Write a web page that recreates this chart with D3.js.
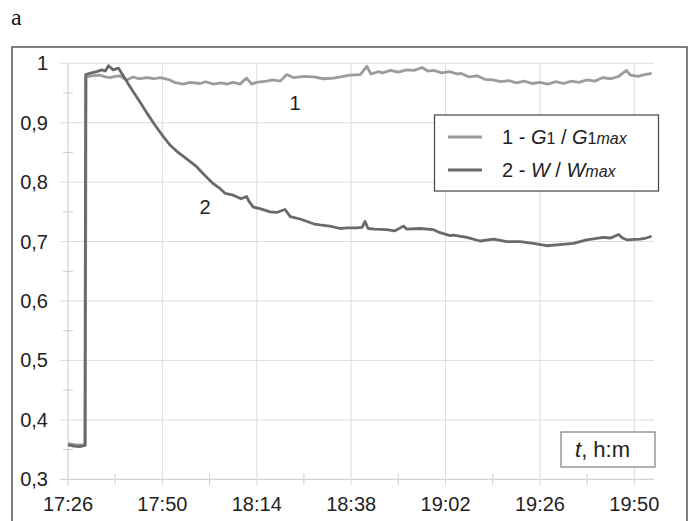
<!DOCTYPE html>
<html>
<head>
<style>
  body{
    margin: 0;
    background: white;
  }
  text{
    font-family: 'Liberation Sans', Arial, sans-serif;
    fill: #222;
  }
</style>
</head>
<body>
<svg id='svgVis'></svg>

<script src="https://cdnjs.cloudflare.com/ajax/libs/d3/7.8.5/d3.min.js"></script>
<script>

// minutes after 17:26
var timeLabels = ["17:26", "17:50", "18:14", "18:38", "19:02", "19:26", "19:50"];
var yTicks = [0.3, 0.4, 0.5, 0.6, 0.7, 0.8, 0.9, 1];

var g1Time = [0, 2, 4.4, 4.6, 6, 8.1, 9.5, 10.7, 12, 13.2, 14.9, 16.6, 18, 20, 22, 23.4, 25.9, 27, 29.3, 31,
  33.6, 35, 37, 39, 40.4, 42, 43.7, 45.4, 46.7, 48, 50.5, 52, 54, 55.6, 57.3, 60, 62.4, 65, 67.5, 70,
  71.7, 74.3, 76, 77, 79, 80, 82, 84, 86, 88, 90, 91.5, 93, 95, 97, 99, 100, 102, 104, 106, 108, 110,
  112, 114, 116, 118, 120, 122, 124, 126, 128, 130, 132, 134, 136, 138, 140, 142, 143, 145, 146, 148.4];
var g1Value = [0.360, 0.358, 0.358, 0.977, 0.979, 0.980, 0.977, 0.976, 0.978, 0.979, 0.972, 0.977, 0.974, 0.976, 0.974, 0.976, 0.972, 0.968, 0.965, 0.968,
  0.966, 0.969, 0.965, 0.967, 0.965, 0.968, 0.965, 0.975, 0.965, 0.968, 0.970, 0.972, 0.970, 0.981, 0.976, 0.978, 0.977, 0.974, 0.975, 0.978,
  0.980, 0.981, 0.995, 0.982, 0.986, 0.984, 0.988, 0.985, 0.989, 0.988, 0.993, 0.987, 0.988, 0.984, 0.986, 0.982, 0.983, 0.977, 0.979, 0.973, 0.972, 0.969,
  0.971, 0.967, 0.970, 0.966, 0.968, 0.965, 0.969, 0.966, 0.970, 0.968, 0.972, 0.970, 0.976, 0.974, 0.978, 0.988, 0.980, 0.978, 0.980, 0.983];

var wTime = [0, 1.5, 3, 4.3, 4.5, 5.5, 7.3, 8.6, 9.5, 10.3, 11.5, 12.8, 13.7, 14.9, 15.8, 17, 18.3, 20, 22, 24.2,
  26, 28, 30, 32.7, 35, 37, 38.7, 40, 42, 44, 45.4, 46, 47.1, 49, 51.4, 53, 55.2, 56.5, 59, 62.4,
  64, 66.6, 69.2, 71, 73.4, 74.8, 75.5, 76.3, 78, 81, 83, 85.3, 86.1, 89.5, 92.9, 94.6, 97.2, 98, 101.4, 104.8,
  108.2, 111.6, 115, 118.3, 121.7, 125.1, 128.5, 131.9, 136.1, 138, 140, 141, 142.1, 145.5, 147, 148.4];
var wValue = [0.358, 0.356, 0.355, 0.357, 0.981, 0.983, 0.986, 0.989, 0.987, 0.996, 0.989, 0.992, 0.983, 0.970, 0.960, 0.948, 0.935, 0.917, 0.897, 0.877,
  0.862, 0.850, 0.840, 0.826, 0.810, 0.797, 0.789, 0.781, 0.778, 0.772, 0.776, 0.768, 0.758, 0.755, 0.750, 0.749, 0.754, 0.742, 0.738, 0.730,
  0.728, 0.726, 0.722, 0.723, 0.723, 0.724, 0.734, 0.722, 0.721, 0.720, 0.718, 0.726, 0.721, 0.722, 0.720, 0.715, 0.710, 0.711, 0.707, 0.701,
  0.704, 0.700, 0.700, 0.697, 0.693, 0.695, 0.697, 0.703, 0.707, 0.706, 0.712, 0.706, 0.703, 0.704, 0.706, 0.709];

var width = 694, height = 521;

var svg = d3.select("#svgVis")
    .attr("width", width)
    .attr("height", height);

var x = d3.scaleLinear().domain([0, 149]).range([68, 654]);
var y = d3.scaleLinear().domain([0.3, 1]).range([479.3, 63.3]);

// panel label
svg.append("text")
  .attr("x", 11)
  .attr("y", 25)
  .style("font-family", "'Liberation Serif', 'Times New Roman', serif")
  .style("font-size", "24px")
  .style("fill", "#111")
  .text("a");

// outer frame
svg.append("rect")
  .attr("x", 12).attr("y", 47)
  .attr("width", 675).attr("height", 500)
  .attr("fill", "none")
  .attr("stroke", "#555")
  .attr("stroke-width", 1.5);

var grid = svg.append("g");

// horizontal gridlines
grid.selectAll(".hg")
  .data(yTicks)
  .enter().append("line")
  .attr("x1", 60).attr("x2", 654)
  .attr("y1", function(d) { return y(d); })
  .attr("y2", function(d) { return y(d); })
  .attr("stroke", function(d) { return d == 0.3 ? "#c8c8c8" : "#dcdcdc"; })
  .attr("stroke-width", 1);

// minor y ticks
grid.selectAll(".ym")
  .data(d3.range(7))
  .enter().append("line")
  .attr("x1", 63).attr("x2", 73)
  .attr("y1", function(d) { return y(0.35 + d * 0.1); })
  .attr("y2", function(d) { return y(0.35 + d * 0.1); })
  .attr("stroke", "#cfcfcf");

// vertical gridlines
grid.selectAll(".vg")
  .data(timeLabels)
  .enter().append("line")
  .attr("x1", function(d, i) { return x(i * 24); })
  .attr("x2", function(d, i) { return x(i * 24); })
  .attr("y1", 63.3).attr("y2", 486)
  .attr("stroke", function(d, i) { return i == 0 ? "#c8c8c8" : "#dcdcdc"; });

// minor x ticks
grid.selectAll(".xm")
  .data(d3.range(6))
  .enter().append("line")
  .attr("x1", function(d) { return x(12 + d * 24); })
  .attr("x2", function(d) { return x(12 + d * 24); })
  .attr("y1", 474).attr("y2", 485)
  .attr("stroke", "#cfcfcf");

// tick labels
svg.selectAll(".yl")
  .data(yTicks)
  .enter().append("text")
  .attr("x", 48)
  .attr("y", function(d) { return y(d) + 7; })
  .attr("text-anchor", "end")
  .style("font-size", "20px")
  .text(function(d) { return d == 1 ? "1" : d3.format(".1f")(d).replace(".", ","); });

svg.selectAll(".xl")
  .data(timeLabels)
  .enter().append("text")
  .attr("x", function(d, i) { return x(i * 24); })
  .attr("y", 511)
  .attr("text-anchor", "middle")
  .style("font-size", "20px")
  .text(function(d) { return d; });

var line = d3.line()
  .x(function(d) { return x(d[0]); })
  .y(function(d) { return y(d[1]); });

var g1Data = d3.zip(g1Time, g1Value);
var wData = d3.zip(wTime, wValue);

svg.append("path")
  .attr("d", line(g1Data))
  .attr("fill", "none")
  .attr("stroke", "#9c9c9c")
  .attr("stroke-width", 2.8)
  .attr("stroke-linejoin", "round");

svg.append("path")
  .attr("d", line(wData))
  .attr("fill", "none")
  .attr("stroke", "#6a6a6a")
  .attr("stroke-width", 2.8)
  .attr("stroke-linejoin", "round");

// curve numbers
svg.append("text").attr("x", 295).attr("y", 110)
  .attr("text-anchor", "middle").style("font-size", "20px").text("1");
svg.append("text").attr("x", 205).attr("y", 214)
  .attr("text-anchor", "middle").style("font-size", "20px").text("2");

// legend
var legend = svg.append("g");
legend.append("rect")
  .attr("x", 434.5).attr("y", 115)
  .attr("width", 224).attr("height", 76)
  .attr("fill", "white")
  .attr("stroke", "#444")
  .attr("stroke-width", 1.2);

legend.append("line")
  .attr("x1", 448).attr("x2", 482).attr("y1", 137).attr("y2", 137)
  .attr("stroke", "#9c9c9c").attr("stroke-width", 2.8);
legend.append("line")
  .attr("x1", 448).attr("x2", 482).attr("y1", 170).attr("y2", 170)
  .attr("stroke", "#6a6a6a").attr("stroke-width", 2.8);

var t1 = legend.append("text").attr("x", 502).attr("y", 144).style("font-size", "20px");
t1.append("tspan").text("1 - ");
t1.append("tspan").style("font-style", "italic").text("G");
t1.append("tspan").style("font-size", "16px").text("1");
t1.append("tspan").text(" / ");
t1.append("tspan").style("font-style", "italic").text("G");
t1.append("tspan").style("font-size", "16px").text("1");
t1.append("tspan").style("font-size", "16px").style("font-style", "italic").text("max");

var t2 = legend.append("text").attr("x", 502).attr("y", 177).style("font-size", "20px");
t2.append("tspan").text("2 - ");
t2.append("tspan").style("font-style", "italic").text("W");
t2.append("tspan").text(" / ");
t2.append("tspan").style("font-style", "italic").text("W");
t2.append("tspan").style("font-size", "16px").style("font-style", "italic").text("max");

// axis unit box
svg.append("rect")
  .attr("x", 561).attr("y", 432)
  .attr("width", 94).attr("height", 35)
  .attr("fill", "white")
  .attr("stroke", "#666")
  .attr("stroke-width", 1);

var tu = svg.append("text").attr("x", 575).attr("y", 457).style("font-size", "22px");
tu.append("tspan").style("font-style", "italic").text("t");
tu.append("tspan").text(", h:m");

</script>
</body>
</html>
